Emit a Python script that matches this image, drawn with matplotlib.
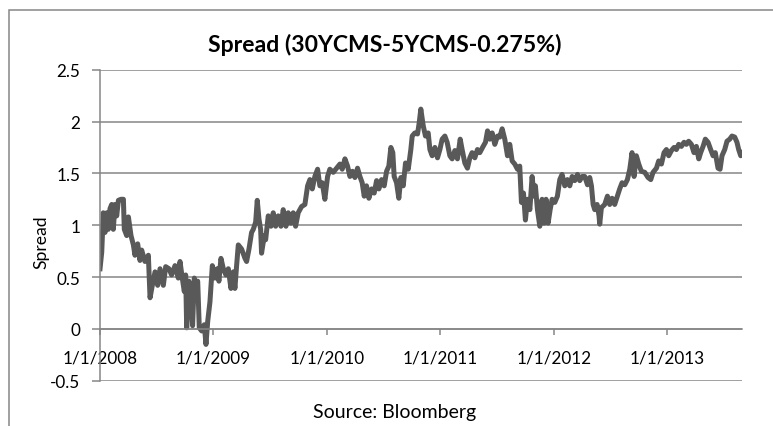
import matplotlib.pyplot as plt
from matplotlib.patches import Rectangle

plt.rcParams['font.family'] = ['Lato', 'DejaVu Sans']

# time axis in decimal years
years = [
    2008.000, 2008.015, 2008.029, 2008.044, 2008.059, 2008.073, 2008.088, 2008.103,
    2008.117, 2008.132, 2008.147, 2008.162, 2008.185, 2008.206, 2008.214, 2008.235,
    2008.250, 2008.273, 2008.294, 2008.308, 2008.332, 2008.352, 2008.367, 2008.396,
    2008.426, 2008.441, 2008.461, 2008.485, 2008.508, 2008.529, 2008.558, 2008.579,
    2008.608, 2008.631, 2008.661, 2008.690, 2008.705, 2008.725, 2008.743, 2008.755,
    2008.764, 2008.784, 2008.799, 2008.816, 2008.831, 2008.846, 2008.861, 2008.875,
    2008.896, 2008.919, 2008.934, 2008.949, 2008.969, 2008.990, 2009.013, 2009.034,
    2009.048, 2009.066, 2009.087, 2009.110, 2009.131, 2009.154, 2009.175, 2009.189,
    2009.204, 2009.219, 2009.248, 2009.278, 2009.292, 2009.313, 2009.336, 2009.351,
    2009.372, 2009.386, 2009.401, 2009.416, 2009.424, 2009.448, 2009.460, 2009.483,
    2009.507, 2009.527, 2009.548, 2009.571, 2009.595, 2009.615, 2009.639, 2009.659,
    2009.683, 2009.703, 2009.724, 2009.747, 2009.777, 2009.806, 2009.830, 2009.850,
    2009.871, 2009.894, 2009.918, 2009.938, 2009.959, 2009.982, 2010.006, 2010.026,
    2010.056, 2010.085, 2010.115, 2010.135, 2010.159, 2010.182, 2010.203, 2010.226,
    2010.247, 2010.270, 2010.291, 2010.311, 2010.329, 2010.349, 2010.370, 2010.394,
    2010.417, 2010.438, 2010.458, 2010.482, 2010.505, 2010.526, 2010.546, 2010.564,
    2010.581, 2010.593, 2010.614, 2010.634, 2010.652, 2010.673, 2010.693, 2010.717,
    2010.740, 2010.752, 2010.775, 2010.799, 2010.814, 2010.828, 2010.849, 2010.869,
    2010.893, 2010.908, 2010.928, 2010.952, 2010.975, 2010.996, 2011.016, 2011.040,
    2011.060, 2011.084, 2011.104, 2011.128, 2011.151, 2011.175, 2011.192, 2011.216,
    2011.239, 2011.260, 2011.280, 2011.304, 2011.327, 2011.348, 2011.377, 2011.398,
    2011.416, 2011.436, 2011.457, 2011.480, 2011.504, 2011.524, 2011.545, 2011.568,
    2011.592, 2011.612, 2011.633, 2011.656, 2011.680, 2011.700, 2011.715, 2011.733,
    2011.750, 2011.768, 2011.789, 2011.809, 2011.827, 2011.838, 2011.856, 2011.877,
    2011.897, 2011.915, 2011.932, 2011.950, 2011.968, 2011.985, 2012.009, 2012.032,
    2012.053, 2012.073, 2012.097, 2012.120, 2012.141, 2012.162, 2012.185, 2012.209,
    2012.229, 2012.250, 2012.273, 2012.297, 2012.317, 2012.332, 2012.347, 2012.361,
    2012.382, 2012.399, 2012.405, 2012.420, 2012.449, 2012.473, 2012.493, 2012.514,
    2012.537, 2012.561, 2012.581, 2012.602, 2012.626, 2012.649, 2012.670, 2012.690,
    2012.708, 2012.728, 2012.749, 2012.772, 2012.802, 2012.831, 2012.855, 2012.875,
    2012.905, 2012.925, 2012.949, 2012.972, 2012.993, 2013.013, 2013.037, 2013.060,
    2013.081, 2013.101, 2013.125, 2013.148, 2013.169, 2013.189, 2013.213, 2013.236,
    2013.257, 2013.278, 2013.295, 2013.316, 2013.336, 2013.360, 2013.383, 2013.404,
    2013.424, 2013.448, 2013.466, 2013.483, 2013.507, 2013.527, 2013.551, 2013.571,
    2013.595, 2013.615, 2013.630, 2013.648, 2013.659,
]
spread = [
    0.58, 0.74, 1.12, 0.93, 1.12, 0.96, 1.16, 1.20,
    0.96, 1.20, 1.09, 1.24, 1.25, 1.25, 0.96, 0.90,
    1.08, 0.90, 0.81, 0.71, 0.82, 0.66, 0.76, 0.65,
    0.71, 0.30, 0.42, 0.55, 0.42, 0.58, 0.42, 0.60,
    0.58, 0.52, 0.61, 0.49, 0.65, 0.49, 0.36, 0.52,
    0.01, 0.46, 0.33, 0.03, 0.49, 0.42, 0.46, 0.01,
    -0.02, 0.04, -0.15, 0.07, 0.26, 0.61, 0.49, 0.58,
    0.46, 0.68, 0.58, 0.52, 0.58, 0.39, 0.55, 0.39,
    0.61, 0.81, 0.77, 0.68, 0.65, 0.77, 0.93, 0.96,
    1.03, 1.24, 1.06, 0.96, 0.73, 0.90, 0.86, 1.09,
    0.99, 1.12, 0.99, 1.09, 0.99, 1.15, 0.99, 1.12,
    1.02, 1.12, 0.99, 1.12, 1.18, 1.20, 1.38, 1.44,
    1.35, 1.47, 1.54, 1.38, 1.41, 1.25, 1.47, 1.54,
    1.51, 1.55, 1.59, 1.54, 1.64, 1.57, 1.47, 1.52,
    1.46, 1.55, 1.47, 1.41, 1.28, 1.38, 1.26, 1.35,
    1.31, 1.43, 1.35, 1.44, 1.38, 1.52, 1.57, 1.75,
    1.70, 1.47, 1.41, 1.26, 1.46, 1.38, 1.60, 1.54,
    1.73, 1.86, 1.89, 1.88, 1.99, 2.12, 1.96, 1.86,
    1.89, 1.73, 1.67, 1.75, 1.65, 1.73, 1.83, 1.86,
    1.80, 1.67, 1.64, 1.72, 1.64, 1.83, 1.73, 1.60,
    1.55, 1.65, 1.70, 1.65, 1.73, 1.70, 1.76, 1.80,
    1.91, 1.83, 1.89, 1.78, 1.86, 1.85, 1.93, 1.83,
    1.67, 1.78, 1.62, 1.59, 1.54, 1.57, 1.22, 1.31,
    1.05, 1.25, 1.15, 1.47, 1.28, 1.38, 1.15, 0.99,
    1.25, 1.02, 1.25, 1.02, 1.15, 1.25, 1.22, 1.28,
    1.44, 1.49, 1.38, 1.44, 1.38, 1.47, 1.43, 1.49,
    1.43, 1.47, 1.47, 1.39, 1.46, 1.38, 1.20, 1.15,
    1.20, 1.09, 1.01, 1.17, 1.20, 1.28, 1.20, 1.26,
    1.20, 1.28, 1.35, 1.41, 1.39, 1.44, 1.54, 1.70,
    1.47, 1.67, 1.59, 1.52, 1.51, 1.46, 1.44, 1.51,
    1.55, 1.62, 1.59, 1.70, 1.73, 1.67, 1.72, 1.75,
    1.73, 1.78, 1.76, 1.80, 1.78, 1.81, 1.78, 1.70,
    1.76, 1.64, 1.70, 1.76, 1.83, 1.80, 1.73, 1.67,
    1.70, 1.55, 1.54, 1.67, 1.73, 1.81, 1.83, 1.86,
    1.85, 1.80, 1.73, 1.67, 1.70,
]

year_ticks = [2008, 2009, 2010, 2011, 2012, 2013]
y_ticks = [-0.5, 0, 0.5, 1, 1.5, 2, 2.5]

grid_c = '#868686'
line_c = '#595959'

fig = plt.figure(figsize=(7.73, 4.27), dpi=100)
ax = fig.add_axes([0.1294, 0.1061, 0.8306, 0.7283])

ax.plot(years, spread, color=line_c, lw=3.6, solid_joinstyle='round')

ax.set_xlim(2008, 2013.66)
ax.set_ylim(-0.5, 2.5)
ax.set_yticks(y_ticks)
ax.set_yticklabels(['-0.5', '0', '0.5', '1', '1.5', '2', '2.5'])
ax.set_xticks(year_ticks)
ax.set_xticklabels([f'1/1/{y}' for y in year_ticks])

ax.yaxis.grid(True, color=grid_c, lw=1.1)
ax.set_axisbelow(True)
for s in ['top', 'right']:
    ax.spines[s].set_visible(False)
ax.spines['left'].set_color(grid_c)
ax.spines['left'].set_linewidth(1.1)
ax.spines['bottom'].set_position(('data', 0))
ax.spines['bottom'].set_color(grid_c)
ax.spines['bottom'].set_linewidth(1.1)
ax.tick_params(axis='y', length=6, width=1.1, color=grid_c, pad=8, labelsize=12.3)
ax.tick_params(axis='x', length=4, width=1.1, color=grid_c, pad=11, labelsize=12.3)

fig.text(0.498, 0.894, 'Spread (30YCMS-5YCMS-0.275%)', ha='center', va='center',
         fontsize=16.6, fontweight='bold')
fig.text(0.054, 0.433, 'Spread', rotation=90, ha='center', va='center', fontsize=12.6)
fig.text(0.511, 0.033, 'Source: Bloomberg', ha='center', va='center', fontsize=14)

# chart area border, cropped at right and bottom like the source image
fig.add_artist(Rectangle((9 / 773, -0.1), 1.2, 1.1 - 11 / 427, transform=fig.transFigure,
                         fill=False, ec=grid_c, lw=1.1))

fig.savefig('out.png', dpi=100)
